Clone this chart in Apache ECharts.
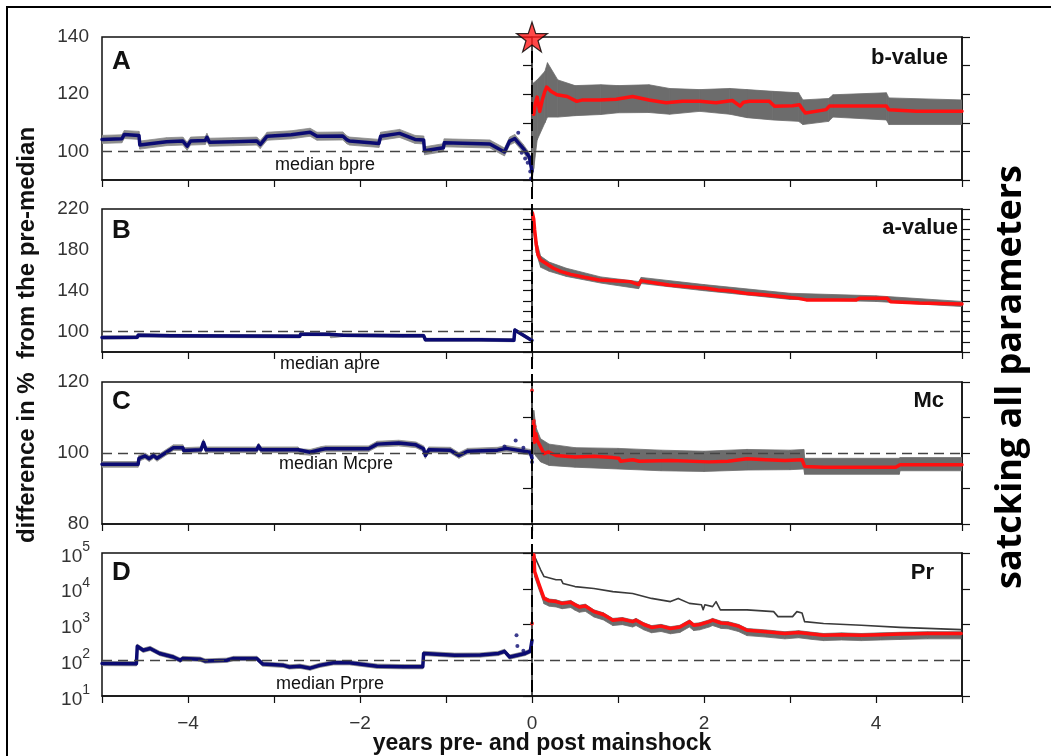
<!DOCTYPE html>
<html><head><meta charset="utf-8">
<script src="https://cdn.jsdelivr.net/npm/echarts@6/dist/echarts.min.js"></script>
<style>html,body{margin:0;padding:0;background:#fff}#c{width:1051px;height:756px}</style>
</head><body><div id="c"></div>
<script>
// ---------- DATA (years relative to mainshock, % of pre-median) ----------
const xTicks = [-4, -2, 0, 2, 4];
const yTicksD = [10, 100, 1000, 10000, 100000];

// Panel A: b-value
const aPreX = [-5.0,-4.77,-4.74,-4.57,-4.56,-4.25,-4.06,-4.01,-3.97,-3.80,-3.78,-3.75,-3.48,-3.20,-3.16,-3.08,-2.80,-2.58,-2.50,-2.20,-2.15,-2.12,-1.78,-1.76,-1.54,-1.36,-1.26,-1.25,-1.03,-1.02,-0.49,-0.32,-0.26,-0.20,-0.10,-0.03,0.0];
const aPreV = [104.2,104.4,105.9,105.6,102.2,103.4,103.6,101.8,103.6,103.8,104.9,103.2,103.4,103.6,102.4,105.3,105.8,106.7,105.3,105.4,104.0,103.6,102.8,105.3,106.3,104.2,104.0,100.2,101.3,103.0,102.6,99.8,103.6,104.5,101.0,98.0,93.0];
const aPreHalf = 1.4;
const aDotX = [-0.16,-0.12,-0.08,-0.05,-0.02,-0.01];
const aDotV = [106.5,99.5,97.5,96,93,90.5];
const aPostX = [0.02,0.04,0.06,0.09,0.12,0.15,0.17,0.22,0.29,0.41,0.52,0.59,0.79,0.98,1.17,1.36,1.56,1.75,1.95,2.14,2.33,2.42,2.46,2.53,2.76,2.82,3.03,3.11,3.15,3.18,3.42,3.46,4.12,4.15,4.47,5.0];
const aPostV = [113,117,119,114,118,121,122.5,121,119.8,119.2,117.5,118,118,118.2,119.2,118,117,117.5,117.5,117,117.8,115.8,117.2,117.5,117.5,115.8,116,116.3,114.5,113.4,114.6,115.9,115.9,114.6,114,114];
const aBandX  = [0.0,0.02,0.06,0.15,0.18,0.3,0.5,0.8,1.0,1.36,1.6,1.95,2.3,2.5,2.8,3.1,3.15,3.45,3.5,4.12,4.15,5.0];
const aBandHi = [100,124,125,128,131,125,123,123.3,123,123.3,122,121.6,122,121.6,121,120.5,118,118.5,119.8,120.5,118.7,118];
const aBandLo = [90,94,104,110,112,112,112.5,112.9,113.5,113.6,113,114,113,111.8,111,110.5,109.4,110.5,112,111,109.4,109.4];

// Panel B: a-value
const bPreX = [-5,-4.59,-4.58,-4.2,-2.7,-2.69,-2.35,-2.34,-2.2,-1.5,-1.26,-1.24,-0.6,-0.21,-0.2,-0.02,0.0];
const bPreV = [94.2,94.4,96.5,95.8,95.3,97.5,97.3,95.4,96.5,96,96,92,92,91.5,101.5,92.2,91.5];
const bPreHalf = 1.5;
const bPostX = [0.005,0.02,0.03,0.05,0.07,0.1,0.16,0.25,0.34,0.45,0.61,0.78,1.0,1.14,1.24,1.25,1.27,1.4,1.59,1.8,2.03,2.16,2.3,2.48,2.7,2.92,3.1,3.19,3.5,3.77,3.81,4.13,4.17,4.5,5.0];
const bPostV = [216,210,200,185,175,170,166.8,162,158.7,156,153.1,150.5,149.5,148.9,146,144.5,149.9,148,145.6,144,142.4,140.8,140,137.5,136,134.2,132.5,131,131,131,132.6,132.6,129.3,128,127];
const bBandX  = [0.005,0.05,0.1,0.2,0.4,0.8,1.24,1.27,2.0,3.0,4.0,5.0];
const bBandHi = [220,190,174,168,162,153.5,149,153,146,137.5,135,129.5];
const bBandLo = [205,177,163,159,154,147.5,142,147,140,131.5,129.5,124.5];

// Panel C: Mc
const cPreX = [-5,-4.58,-4.57,-4.5,-4.45,-4.4,-4.36,-4.17,-4.06,-4.05,-3.85,-3.82,-3.79,-3.2,-3.18,-3.15,-2.72,-2.7,-2.58,-2.45,-2.4,-1.9,-1.8,-1.55,-1.35,-1.26,-1.24,-1.2,-0.95,-0.85,-0.75,-0.4,-0.3,-0.02,0.0];
const cPreV = [96.8,96.8,98.5,99.2,98.4,99.3,98.5,101.5,101.5,100.7,100.9,103.0,100.9,100.9,102.0,100.9,100.9,100.4,100.2,101.0,101.2,101.2,102.5,102.8,102.3,101.2,99.3,100.9,100.8,99.3,100.5,100.8,101.3,100.2,98.5];
const cPreHalf = 0.8;
const cDotX = [-0.32,-0.19,-0.1,0.0];
const cDotV = [101.8,103.5,101.5,97.5];
const cPostX = [0.018,0.03,0.045,0.06,0.1,0.14,0.19,0.28,0.5,0.72,0.94,1.01,1.03,1.17,1.25,1.61,2.06,2.28,2.5,2.72,2.94,3.14,3.17,3.39,4.23,4.28,5.0];
const cPostV = [108.3,103,105.4,103.6,101.7,99.8,100.3,99.3,98.9,99.1,98.7,98.5,97.7,98.1,97.7,97.9,97.5,97.7,98.4,98.1,97.9,98.1,96.2,96.0,96.0,96.7,96.7];
const cRedDotX = [0.0,0.02,0.03];
const cRedDotV = [117.6,109,107.5];
const cBandX  = [0.0,0.02,0.05,0.1,0.2,0.5,1.0,1.5,2.0,2.5,3.0,3.16,3.17,4.27,4.28,5.0];
const cBandHi = [100,112,107,104,102.5,101.5,101.3,100.8,100.5,101,100.8,101,98.5,98.5,98.7,98.7];
const cBandLo = [98,100,99,97.5,96.5,96,95.5,95,94.8,95.2,95.3,95.5,94,94,95,95];

// Panel D: Pr (log)
const dPreX = [-5,-4.6,-4.59,-4.52,-4.44,-4.33,-4.25,-4.17,-4.09,-4.06,-3.86,-3.8,-3.55,-3.47,-3.2,-3.13,-2.89,-2.82,-2.7,-2.58,-2.47,-2.31,-2.12,-1.8,-1.5,-1.27,-1.26,-0.9,-0.6,-0.39,-0.32,-0.26,-0.17,-0.08,-0.02,0.0];
const dPreV = [81,80,245,190,214,155,138,123,100,112,107,95,100,112,112,78,72,65,68,60,72,85,85,68,66,66,155,138,140,155,178,123,138,155,180,363];
const dPreHalfDec = 0.06;
const dDotX = [-0.18,-0.17,-0.1];
const dDotV = [500,250,185];
const dPostX = [0.022,0.031,0.076,0.14,0.2,0.28,0.35,0.45,0.5,0.55,0.62,0.72,0.83,0.94,1.05,1.17,1.21,1.3,1.39,1.5,1.61,1.72,1.83,1.88,1.95,2.06,2.1,2.2,2.28,2.4,2.5,2.72,2.94,3.1,3.26,3.39,3.6,3.83,4.05,4.28,4.6,4.99];
const dPostV = [89000,30200,14500,5370,4600,4370,3900,4200,3550,3100,3300,2290,1900,1320,1400,1200,1320,1000,830,900,776,850,1200,955,1000,1200,1320,1100,1070,900,690,630,560,600,540,500,520,500,520,540,560,560];
const dBandUpDec = 0.05, dBandDownDec = 0.15;
const dRedDotX = [0.0];
const dRedDotV = [1070];
const dUpperX = [0.022,0.1,0.14,0.28,0.3,0.34,0.36,0.5,0.72,0.94,1.17,1.39,1.61,1.7,1.72,1.83,1.97,1.99,2.01,2.1,2.14,2.19,2.28,2.5,2.81,2.86,3.03,3.08,3.14,3.17,3.39,3.83,4.28,4.99];
const dUpperV = [89000,33900,21900,17800,15800,17800,14100,11500,10200,8300,7400,5370,4370,5370,4800,3900,3550,2570,3550,3160,4370,2570,2570,2570,2290,1660,1660,2290,2100,1200,1070,955,830,720];

// ---------- CHART ----------
const FONT = "'Liberation Sans', Arial, sans-serif";
const chart = echarts.init(document.getElementById('c'), null, {renderer: 'canvas'});
const pairs = (xs, vs) => xs.map((x, i) => [x, vs[i]]);
const tri = (xs, lo, hi) => xs.map((x, i) => [x, lo[i], hi[i]]);

function band(k, data, color) {
  return {
    type: 'custom', xAxisIndex: k, yAxisIndex: k, data, silent: true, z: 1, clip: true,
    encode: {x: 0, y: [1, 2]},
    renderItem(params, api) {
      const i = params.dataIndexInside;
      if (i >= data.length - 1) return null;
      const p = [
        api.coord([api.value(0, i), api.value(1, i)]),
        api.coord([api.value(0, i + 1), api.value(1, i + 1)]),
        api.coord([api.value(0, i + 1), api.value(2, i + 1)]),
        api.coord([api.value(0, i), api.value(2, i)])
      ];
      return {type: 'polygon', shape: {points: p}, style: {fill: color, stroke: color, lineWidth: 0.8}};
    }
  };
}
function line(k, data, color, width, z) {
  return {type: 'line', xAxisIndex: k, yAxisIndex: k, data, symbol: 'none', silent: true, z: z || 3,
    lineStyle: {color, width, cap: 'round', join: 'round'}, itemStyle: {color}};
}
function dots(k, data, color, size) {
  return {type: 'scatter', xAxisIndex: k, yAxisIndex: k, data, symbolSize: size, silent: true, z: 4,
    itemStyle: {color}};
}
function median(k, val) {
  return {type: 'line', xAxisIndex: k, yAxisIndex: k, data: [], silent: true, z: 2,
    markLine: {silent: true, symbol: 'none', animation: false, label: {show: false},
      lineStyle: {color: '#444', width: 1.4, type: [10, 6]}, data: [{yAxis: val}]}};
}

const BLUE = '#0b0b72', RED = '#ff1010', GPOST = '#6c6c6c', GPRE = '#8c8c8c';
const preBand = (xs, vs, h) => tri(xs, vs.map(v => v - h), vs.map(v => v + h));
const preBandLog = (xs, vs, h) => tri(xs, vs.map(v => v / Math.pow(10, h)), vs.map(v => v * Math.pow(10, h)));

const grids = [
  {left: 102, right: 89, top: 37, height: 143},
  {left: 102, right: 89, top: 209, height: 143},
  {left: 102, right: 89, top: 382, height: 142},
  {left: 102, right: 89, top: 553, height: 143}
].map(g => Object.assign(g, {show: true, borderColor: '#111', borderWidth: 1.5, backgroundColor: 'transparent'}));

const xAxes = [0, 1, 2, 3].map(k => ({
  type: 'value', gridIndex: k, min: -5, max: 5, interval: 1,
  axisLine: {show: true, lineStyle: {color: '#111', width: 1.5}},
  axisTick: {show: true, length: 7, inside: false, lineStyle: {color: '#111', width: 1.2}},
  splitLine: {show: false},
  axisLabel: {show: k === 3, margin: 18, fontSize: 19, color: '#333', fontFamily: FONT,
    formatter: v => xTicks.indexOf(v) >= 0 ? (v < 0 ? '\u2212' + (-v) : String(v)) : ''}
}));

const yRanges = [
  {min: 90, max: 140, lab: v => v % 20 === 0},
  {min: 80, max: 220, lab: v => (v - 100) % 40 === 0},
  {min: 80, max: 120, lab: v => v % 20 === 0}
];
const yLeft = yRanges.map((r, k) => ({
  type: 'value', gridIndex: k, min: r.min, max: r.max, interval: 10, position: 'left',
  axisLine: {show: true, lineStyle: {color: '#111', width: 1.5}},
  axisTick: {show: true, length: 9, lineStyle: {color: '#111', width: 1.2}},
  splitLine: {show: false},
  axisLabel: {margin: 13, fontSize: 19, color: '#333', fontFamily: FONT, formatter: v => r.lab(v) ? String(v) : ''}
}));
yLeft.push({
  type: 'log', logBase: 10, gridIndex: 3, min: 10, max: 100000, position: 'left',
  axisLine: {show: true, lineStyle: {color: '#111', width: 1.5}},
  axisTick: {show: true, length: 9, lineStyle: {color: '#111', width: 1.2}},
  splitLine: {show: false},
  axisLabel: {margin: 12, color: '#333', fontFamily: FONT,
    formatter: v => yTicksD.indexOf(Math.round(v)) >= 0 ? '{b|10}{s|' + Math.round(Math.log10(v)) + '}' : '',
    rich: {b: {fontSize: 19, fontFamily: FONT, color: '#333', lineHeight: 26, verticalAlign: 'bottom'},
           s: {fontSize: 14, fontFamily: FONT, color: '#333', verticalAlign: 'top', lineHeight: 14}}}
});
const yRight = yLeft.map((a, k) => Object.assign({}, a, {
  position: 'right', axisLabel: {show: false},
  axisTick: {show: true, length: 8, lineStyle: {color: '#111', width: 1.2}}
}));

const starPath = 'path://M50,0 L61.8,35.1 L98.5,35.1 L68.8,56.7 L79.4,91 L50,70 L20.6,91 L31.2,56.7 L1.5,35.1 L38.2,35.1 Z';

const series = [
  // A
  band(0, preBand(aPreX, aPreV, aPreHalf), GPRE),
  band(0, tri(aBandX, aBandLo, aBandHi), GPOST),
  median(0, 100),
  line(0, pairs(aPreX, aPreV), BLUE, 3.5),
  dots(0, pairs(aDotX, aDotV), BLUE, 4),
  line(0, pairs(aPostX, aPostV), RED, 3.5),
  {type: 'scatter', xAxisIndex: 0, yAxisIndex: 0, data: [[0, 140]], symbol: starPath, symbolSize: [31, 30],
    clip: false, silent: true, z: 20, itemStyle: {color: '#ff1a1a', borderColor: '#000', borderWidth: 1.2}},
  // B
  band(1, preBand(bPreX, bPreV, bPreHalf), GPRE),
  band(1, tri(bBandX, bBandLo, bBandHi), GPOST),
  median(1, 100),
  line(1, pairs(bPreX, bPreV), BLUE, 3.5),
  line(1, pairs(bPostX, bPostV), RED, 3.5),
  // C
  band(2, preBand(cPreX, cPreV, cPreHalf), GPRE),
  band(2, tri(cBandX, cBandLo, cBandHi), GPOST),
  median(2, 100),
  line(2, pairs(cPreX, cPreV), BLUE, 3.5),
  dots(2, pairs(cDotX, cDotV), BLUE, 4),
  line(2, pairs(cPostX, cPostV), RED, 3.5),
  dots(2, pairs(cRedDotX, cRedDotV), RED, 4),
  // D
  band(3, preBandLog(dPreX, dPreV, dPreHalfDec), GPRE),
  band(3, tri(dPostX, dPostV.map(v => v / Math.pow(10, dBandDownDec)), dPostV.map(v => v * Math.pow(10, dBandUpDec))), GPOST),
  median(3, 100),
  line(3, pairs(dPreX, dPreV), BLUE, 3.5),
  dots(3, pairs(dDotX, dDotV), BLUE, 4),
  line(3, pairs(dUpperX, dUpperV), '#3a3a3a', 1.6),
  line(3, pairs(dPostX, dPostV), RED, 3.5),
  dots(3, pairs(dRedDotX, dRedDotV), RED, 4)
];

chart.setOption({
  animation: false,
  backgroundColor: '#fff',
  grid: grids,
  xAxis: xAxes,
  yAxis: yLeft.concat(yRight),
  series
});

// ---------- annotations ----------
const x0 = chart.convertToPixel({xAxisIndex: 0}, 0);
const yTop = chart.convertToPixel({yAxisIndex: 0}, 140) + 14;
const yBot = chart.convertToPixel({yAxisIndex: 3}, 10);
function T(x, y, text, size, weight, align, rot) {
  return {type: 'text', x, y, rotation: rot || 0, silent: true, z: 30,
    style: {text, fontSize: size, fontWeight: weight, fontFamily: FONT, fill: '#111',
      align: align || 'center', textAlign: align || 'center', verticalAlign: 'middle', textVerticalAlign: 'middle'}};
}
const graphic = [
  {type: 'rect', silent: true, z: 0, shape: {x: 7, y: 7, width: 1100, height: 800},
    style: {fill: 'none', stroke: '#000', lineWidth: 2}},
  {type: 'line', silent: true, z: 15, shape: {x1: x0, y1: yTop, x2: x0, y2: yBot},
    style: {stroke: '#000', lineWidth: 2, lineDash: [12, 5]}},
  T(112, 62, 'A', 26, 'bold', 'left'),
  T(112, 231, 'B', 26, 'bold', 'left'),
  T(112, 402, 'C', 26, 'bold', 'left'),
  T(112, 573, 'D', 26, 'bold', 'left'),
  T(948, 58, 'b-value', 22, 'bold', 'right'),
  T(958, 228, 'a-value', 22, 'bold', 'right'),
  T(944, 401, 'Mc', 22, 'bold', 'right'),
  T(934, 573, 'Pr', 22, 'bold', 'right'),
  T(325, 165, 'median bpre', 18, 'normal', 'center'),
  T(330, 364, 'median apre', 18, 'normal', 'center'),
  T(336, 464, 'median Mcpre', 18, 'normal', 'center'),
  T(330, 684, 'median Prpre', 18, 'normal', 'center'),
  T(27, 335, 'difference in %  from the pre-median', 24, 'bold', 'center', Math.PI / 2),
  T(542, 744, 'years pre- and post mainshock', 23, 'bold', 'center'),
  {type: 'text', x: 1011, y: 377, rotation: Math.PI / 2, silent: true, z: 30,
    style: {text: 'satcking all parameters', fontSize: 36, fontWeight: 'bold', fontFamily: "'Open Sans', 'Noto Sans', sans-serif",
      fill: '#000', align: 'center', textAlign: 'center', verticalAlign: 'middle', textVerticalAlign: 'middle'}}
];
chart.setOption({graphic});
</script>
</body></html>
